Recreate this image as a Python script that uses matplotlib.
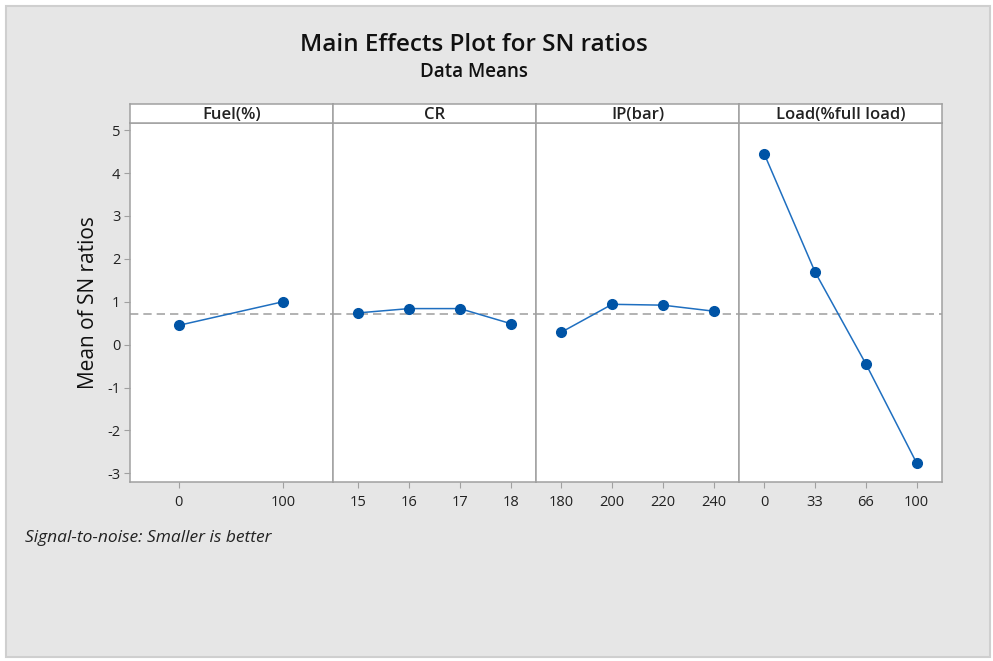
import numpy as np
import matplotlib.pyplot as plt
from matplotlib.patches import Rectangle

plt.rcParams['font.family'] = ['Open Sans', 'DejaVu Sans']
plt.rcParams['axes.unicode_minus'] = False

# factor levels and mean SN ratios
factors = ['Fuel(%)', 'CR', 'IP(bar)', 'Load(%full load)']
fuel_levels = ['0', '100']
fuel_sn = [0.45, 1.00]
cr_levels = ['15', '16', '17', '18']
cr_sn = [0.74, 0.84, 0.84, 0.49]
ip_levels = ['180', '200', '220', '240']
ip_sn = [0.29, 0.94, 0.92, 0.78]
load_levels = ['0', '33', '66', '100']
load_sn = [4.44, 1.69, -0.45, -2.76]

levels = [fuel_levels, cr_levels, ip_levels, load_levels]
values = [fuel_sn, cr_sn, ip_sn, load_sn]
grand_mean = np.mean(fuel_sn)

W, H = 993, 661
fig = plt.figure(figsize=(W / 100, H / 100), dpi=100)
fig.patch.set_facecolor('white')
bg = Rectangle((6 / W, 4 / H), 984 / W, 651 / H, transform=fig.transFigure,
               facecolor='#e6e6e6', edgecolor='#cfcfcf', lw=1.5, zorder=-10)
fig.patches.append(bg)

left, right = 130 / W, 942 / W
bottom, top = 1 - 482.3 / H, 1 - 123.3 / H
strip_h = 19.3 / H
pw = (right - left) / 4
edge = '#a0a0a0'

for i in range(4):
    ax = fig.add_axes([left + i * pw, bottom, pw, top - bottom])
    n = len(levels[i])
    x = np.arange(n)
    ax.plot(x, values[i], color='#1f6fc0', lw=1.1, marker='o', ms=7,
            mfc='#0054a6', mec='#0054a6', zorder=3)
    ax.axhline(grand_mean, color='#a6a6a6', lw=1.2, ls=(0, (5, 3)), zorder=2)
    if n == 2:
        ax.set_xlim(-0.47, 1.48)
    else:
        ax.set_xlim(-0.5, n - 0.5)
    ax.set_ylim(-3.21, 5.16)
    ax.set_xticks(x)
    ax.set_xticklabels(levels[i], fontsize=10.5, color='#222222')
    ax.set_yticks(range(-3, 6))
    for s in ax.spines.values():
        s.set_color(edge)
        s.set_linewidth(1.1)
    ax.tick_params(axis='both', color=edge, length=4, width=0.8, pad=5)
    if i == 0:
        ax.tick_params(axis='y', labelsize=10.5, labelcolor='#222222', pad=3)
        ax.set_ylabel('Mean of SN ratios', fontsize=15, labelpad=6,
                      fontweight='medium', color='#111111')
    else:
        ax.tick_params(axis='y', left=False, labelleft=False)

    # factor name strip on top of each panel
    sax = fig.add_axes([left + i * pw, top, pw, strip_h])
    sax.set_xticks([])
    sax.set_yticks([])
    for s in sax.spines.values():
        s.set_color(edge)
        s.set_linewidth(1.1)
    sax.text(0.5, 0.45, factors[i], ha='center', va='center',
             fontsize=12, fontweight='semibold', color='#222222',
             transform=sax.transAxes)

fig.text(474 / W, 1 - 45 / H, 'Main Effects Plot for SN ratios', ha='center',
         va='center', fontsize=17.5, fontweight='semibold', color='#111111')
fig.text(474 / W, 1 - 72 / H, 'Data Means', ha='center', va='center',
         fontsize=13.5, fontweight='semibold', color='#111111')
fig.text(25 / W, 1 - 538 / H, 'Signal-to-noise: Smaller is better', ha='left',
         va='center', fontsize=12.5, style='italic', color='#222222')

fig.savefig('out.png', dpi=100)
